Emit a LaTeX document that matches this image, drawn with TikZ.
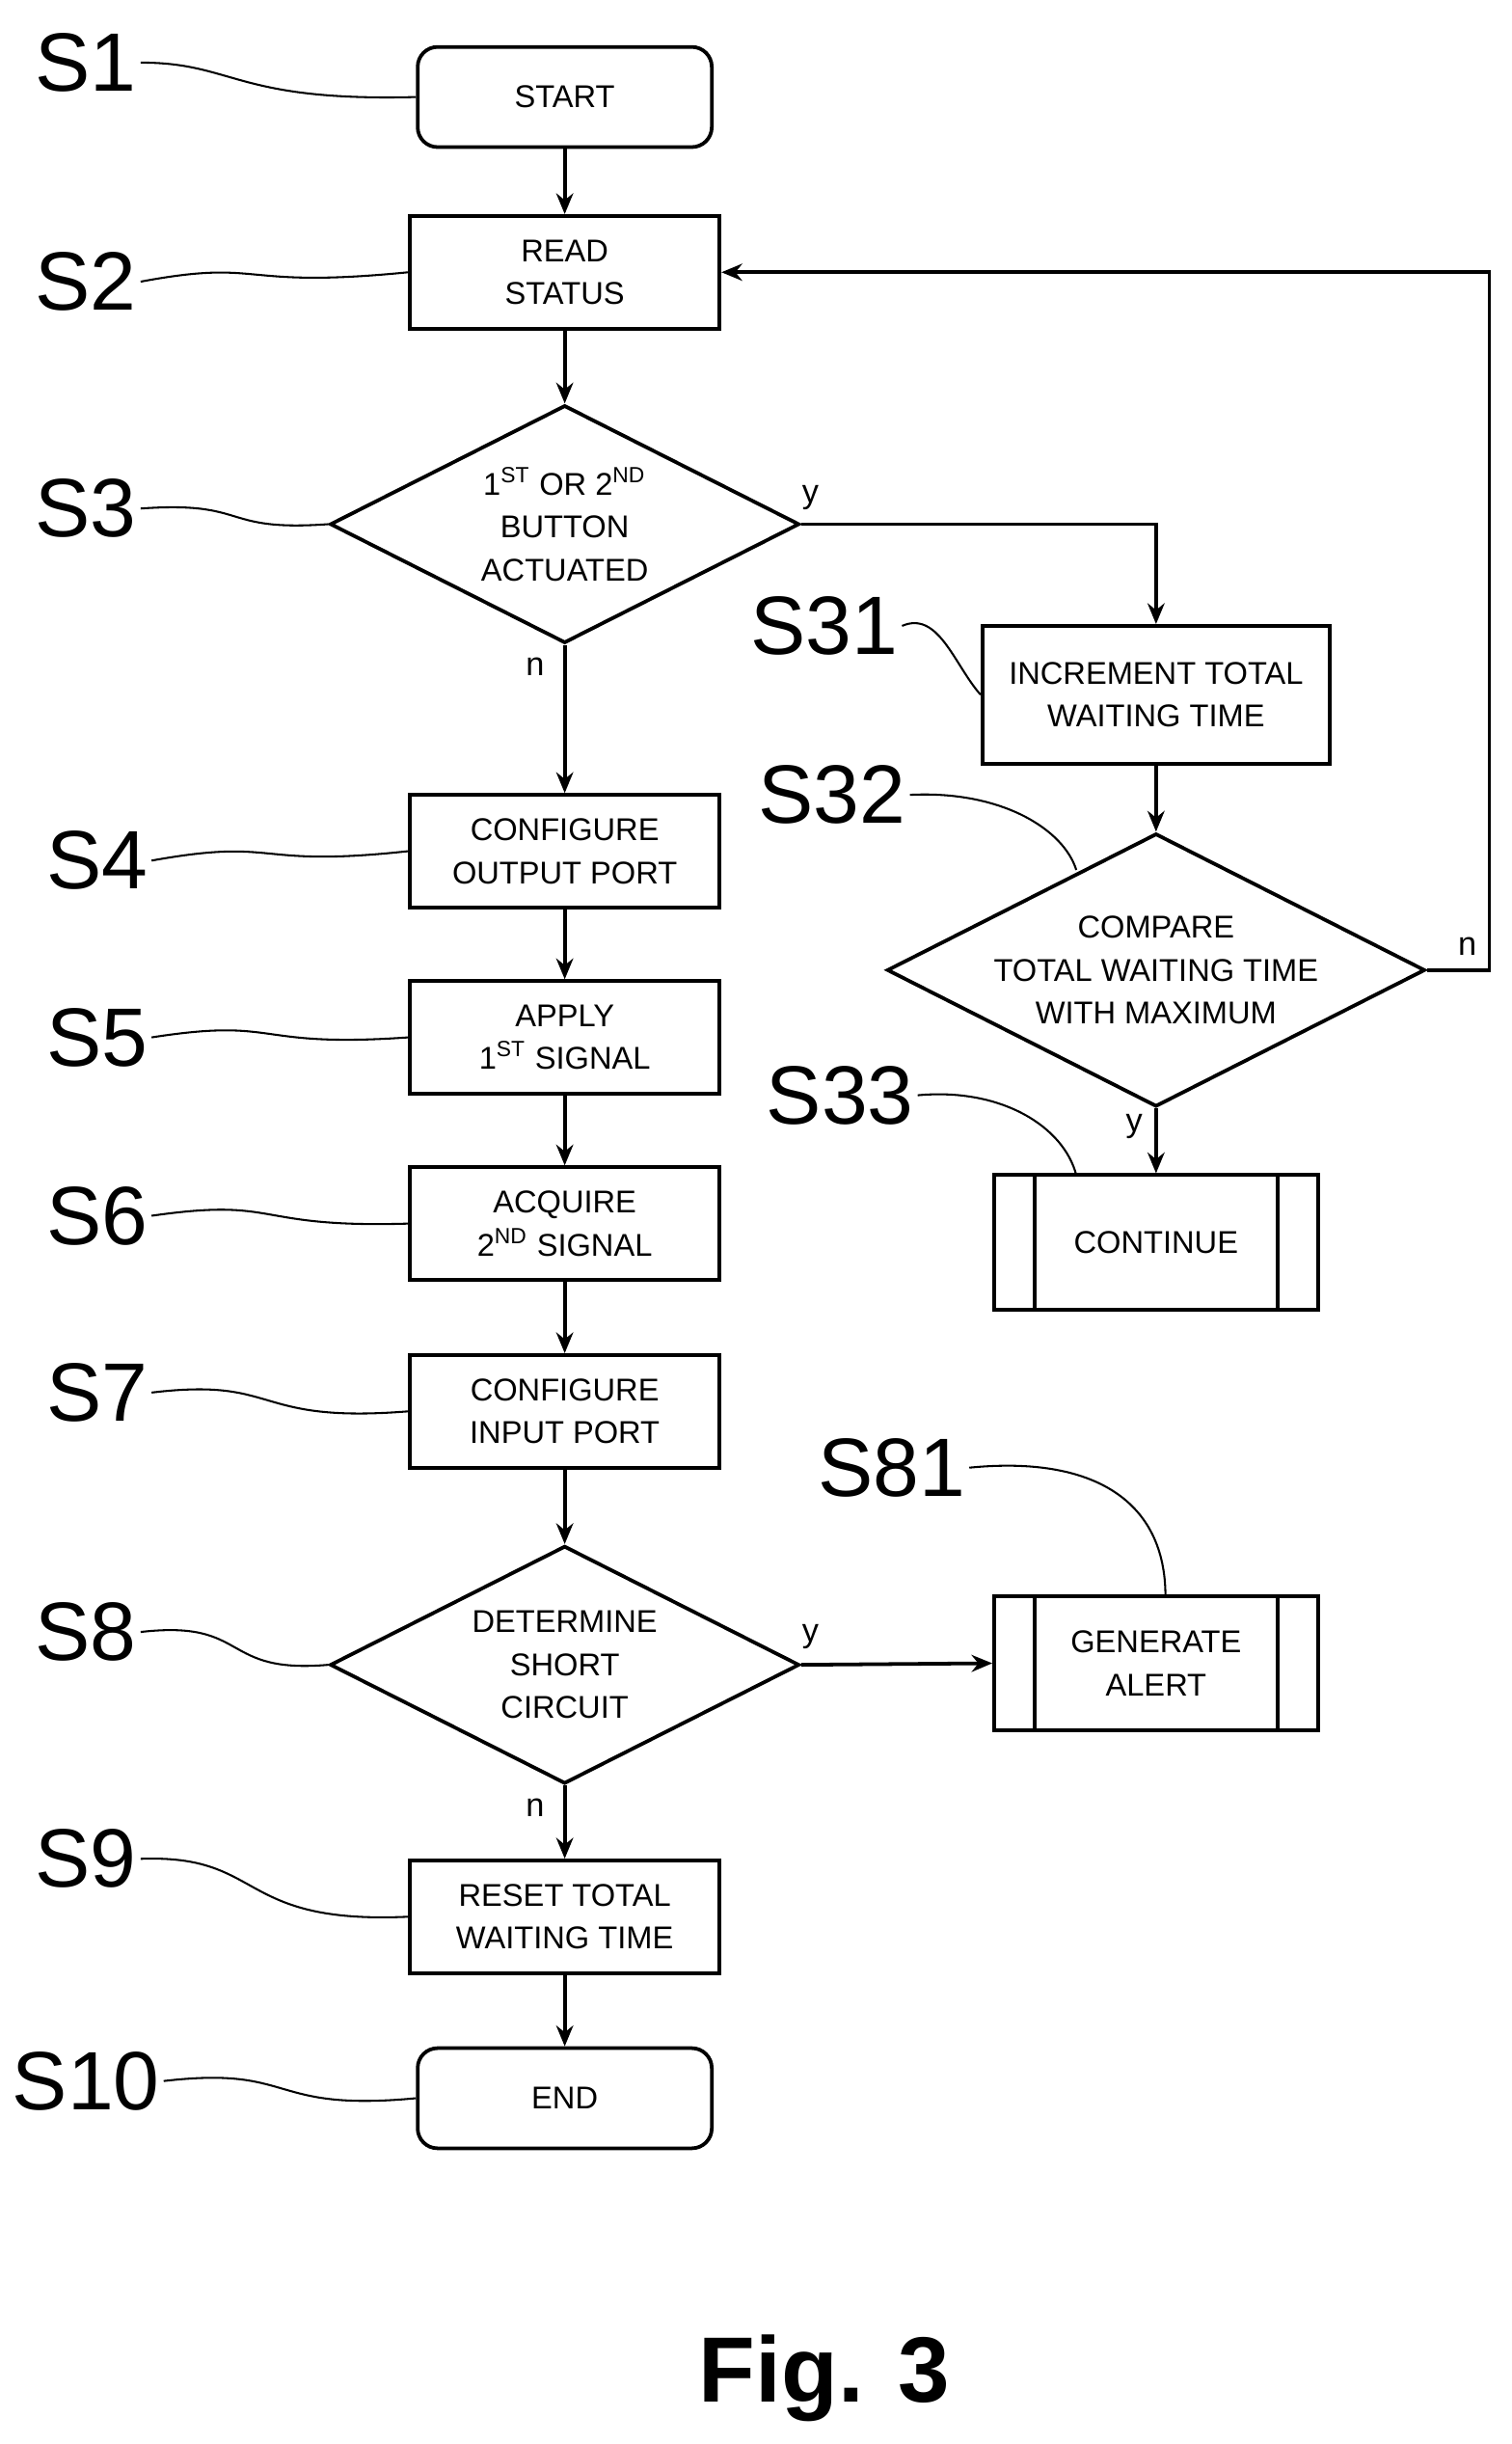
\documentclass[tikz,border=0pt]{standalone}
\usepackage{fontspec}
\setmainfont{Liberation Sans}
\usetikzlibrary{arrows.meta, positioning, shapes.geometric, calc}

\begin{document}
\begin{tikzpicture}[x=0.0166cm, y=-0.0166cm,
    box/.style={rectangle, draw, line width=1.1pt, minimum width=198*0.0166cm,
                minimum height=72*0.0166cm, align=center, font=\fontsize{9.5}{13}\selectfont},
    term/.style={box, rounded corners=6pt, minimum width=188*0.0166cm, minimum height=64*0.0166cm},
    pred/.style={box, minimum width=207*0.0166cm, minimum height=86*0.0166cm},
    dec/.style={diamond, draw, line width=1.1pt, inner sep=0pt, aspect=1.97,
                minimum width=300*0.0166cm, minimum height=152*0.0166cm,
                align=center, font=\fontsize{9.5}{13}\selectfont},
    steplabel/.style={font=\fontsize{25}{25}\selectfont, inner sep=1pt},
    lead/.style={line width=0.6pt},
    arrow/.style={-{Stealth[length=2.2mm, width=1.8mm]}, line width=1.1pt},
    yn/.style={font=\fontsize{10}{10}\selectfont, inner sep=1pt}
  ]
    \useasboundingbox (0,0) rectangle (966,1562);

    % Main column
    \node[term] (start) at (361,62) {START};
    \node[box] (read) at (361,174) {READ\\STATUS};
    \node[dec] (btn) at (361,335) {1\textsuperscript{ST} OR 2\textsuperscript{ND}\\BUTTON\\ACTUATED};
    \node[box] (outp) at (361,544) {CONFIGURE\\OUTPUT PORT};
    \node[box] (sig1) at (361,663) {APPLY\\1\textsuperscript{ST} SIGNAL};
    \node[box] (sig2) at (361,782) {ACQUIRE\\2\textsuperscript{ND} SIGNAL};
    \node[box] (inp) at (361,902) {CONFIGURE\\INPUT PORT};
    \node[dec] (short) at (361,1064) {DETERMINE\\SHORT\\CIRCUIT};
    \node[box] (reset) at (361,1225) {RESET TOTAL\\WAITING TIME};
    \node[term] (stop) at (361,1341) {END};

    % Right column
    \node[box, minimum width=222*0.0166cm, minimum height=88*0.0166cm] (incr) at (739,444) {INCREMENT TOTAL\\WAITING TIME};
    \node[dec, minimum width=332*0.0166cm, minimum height=174*0.0166cm] (cmp) at (739,620) {COMPARE\\TOTAL WAITING TIME\\WITH MAXIMUM};
    \node[pred] (cont) at (739,794) {CONTINUE};
    \node[pred] (alert) at (739,1063) {GENERATE\\ALERT};
    \foreach \p in {cont, alert} {
      \draw[line width=1.1pt] ($(\p.north west)+(27,0)$) -- ($(\p.south west)+(27,0)$);
      \draw[line width=1.1pt] ($(\p.north east)+(-27,0)$) -- ($(\p.south east)+(-27,0)$);
    }

    % Arrows
    \draw[arrow] (start) -- (read);
    \draw[arrow] (read) -- (btn);
    \draw[arrow] (btn) -- (outp);
    \draw[arrow] (outp) -- (sig1);
    \draw[arrow] (sig1) -- (sig2);
    \draw[arrow] (sig2) -- (inp);
    \draw[arrow] (inp) -- (short);
    \draw[arrow] (short) -- (reset);
    \draw[arrow] (reset) -- (stop);
    \draw[arrow] (btn.east) -| (incr.north);
    \draw[arrow] (incr) -- (cmp);
    \draw[arrow] (cmp) -- (cont);
    \coordinate (loop) at (952,620);
    \draw[arrow] (cmp.east) -- (loop) |- (read.east);
    \draw[arrow] (short.east) -- (alert.west);

    % Branch labels
    \node[yn] at (518,318) {y};
    \node[yn] at (342,426) {n};
    \node[yn] at (938,605) {n};
    \node[yn] at (725,720) {y};
    \node[yn] at (518,1046) {y};
    \node[yn] at (342,1155) {n};

    % Step labels
    \node[steplabel] (l1) at (55,40) {S1};
    \node[steplabel] (l2) at (55,180) {S2};
    \node[steplabel] (l3) at (55,325) {S3};
    \node[steplabel] (l4) at (62,550) {S4};
    \node[steplabel] (l5) at (62,663) {S5};
    \node[steplabel] (l6) at (62,777) {S6};
    \node[steplabel] (l7) at (62,890) {S7};
    \node[steplabel] (l8) at (55,1043) {S8};
    \node[steplabel] (l9) at (55,1188) {S9};
    \node[steplabel] (l10) at (55,1330) {S10};
    \node[steplabel] (l31) at (527,400) {S31};
    \node[steplabel] (l32) at (532,508) {S32};
    \node[steplabel] (l33) at (537,700) {S33};
    \node[steplabel] (l81) at (570,938) {S81};

    % Leaders
    \draw[lead] (l1.east) .. controls (150,40) and (150,65) .. (start.west);
    \draw[lead] (l2.east) .. controls (170,165) and (150,185) .. (read.west);
    \draw[lead] (l3.east) .. controls (160,320) and (140,340) .. (btn.west);
    \draw[lead] (l4.east) .. controls (180,535) and (160,555) .. (outp.west);
    \draw[lead] (l5.east) .. controls (180,650) and (160,670) .. (sig1.west);
    \draw[lead] (l6.east) .. controls (180,765) and (160,785) .. (sig2.west);
    \draw[lead] (l7.east) .. controls (180,880) and (160,910) .. (inp.west);
    \draw[lead] (l8.east) .. controls (160,1035) and (140,1070) .. (short.west);
    \draw[lead] (l9.east) .. controls (170,1185) and (150,1230) .. (reset.west);
    \draw[lead] (l10.east) .. controls (190,1320) and (170,1350) .. (stop.west);
    \draw[lead] (l31.east) .. controls (600,390) and (610,425) .. (incr.west);
    \draw[lead] (l32.east) .. controls (640,505) and (680,530) .. (688,556);
    \draw[lead] (l33.east) .. controls (640,695) and (680,720) .. (688,751);
    \draw[lead] (l81.east) .. controls (700,930) and (745,960) .. (745,1020);

    \node[font=\bfseries\fontsize{28}{28}\selectfont] (fig) at (527,1520) {Fig. 3};
\end{tikzpicture}
\end{document}
